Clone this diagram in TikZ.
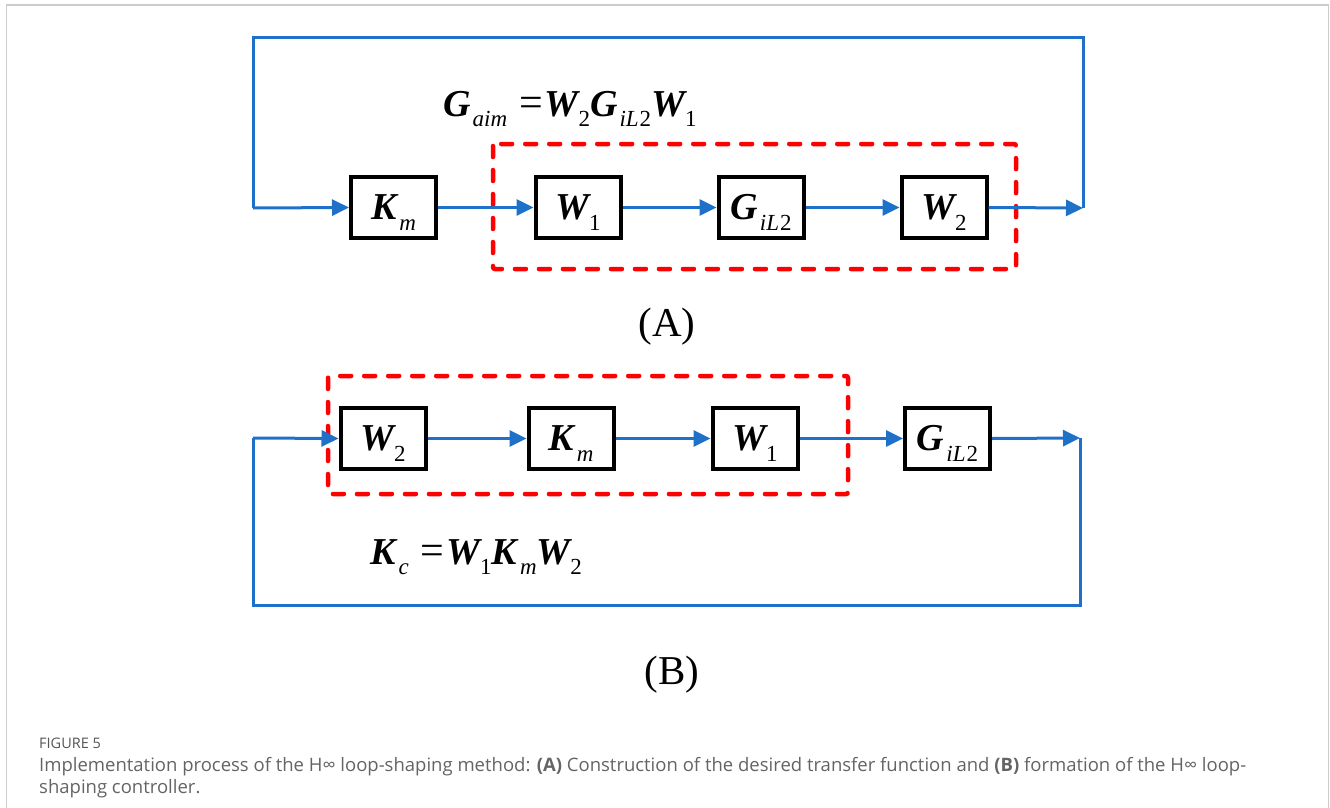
\documentclass[tikz,border=0pt]{standalone}
\usepackage{fontspec}
\setmainfont{Liberation Serif}
\newfontfamily\capfont{Open Sans}
\usetikzlibrary{arrows.meta}

\definecolor{flowblue}{RGB}{30,112,200}
\definecolor{framegray}{RGB}{204,204,204}
\definecolor{capgray}{RGB}{100,100,100}
\definecolor{figgray}{RGB}{85,85,85}

% bold italic symbol with a lowered subscript that takes no vertical room
\newcommand{\bsym}[3][0pt]{{\fontsize{38}{40}\selectfont\bfseries\itshape #2}\kern#1\raisebox{-10.5pt}[0pt][0pt]{\fontsize{23}{24}\selectfont #3}}
\newcommand{\eqsign}{\kern12pt{\fontsize{42}{44}\selectfont=}\kern2pt}

\tikzset{
  blk/.style={draw=black, line width=4pt, minimum width=85pt, minimum height=61pt, inner sep=0pt, fill=white},
  flow/.style={draw=flowblue, line width=3pt},
  flowarr/.style={flow, -{Triangle[length=17pt,width=16pt]}},
  group/.style={draw=red, line width=4.5pt, dash pattern=on 11pt off 13pt, line cap=round, rounded corners=2pt},
  tag/.style={font=\fontsize{41}{43}\selectfont, inner sep=0pt},
}

\begin{document}
\begin{tikzpicture}[x=1pt,y=-1pt]
\useasboundingbox (0,0) rectangle (1330,808);

% outer frame (open at the bottom)
\draw[framegray, line width=1.6pt] (6.5,808) -- (6.5,5) -- (1328.5,5) -- (1328.5,808);

% ---------- (A) desired loop shape ----------
\draw[group] (493,144) rectangle (1016,269);

\node[blk] (KmA)  at (393.5,207.5) {\bsym[3pt]{K}{\itshape m}};
\node[blk] (W1A)  at (578,207.5) {\bsym{W}{1}};
\node[blk] (GA)   at (761,207.5) {\bsym[2pt]{G}{\itshape iL\upshape\kern1pt 2}};
\node[blk] (W2A)  at (944,207.5) {\bsym{W}{2}};

\coordinate (outA) at (1083,208);
\coordinate (trA)  at (1083,38);
\coordinate (tlA)  at (253,38);
\coordinate (inA)  at (253,208);

\draw[flow] (outA) -- (trA) -- (tlA) -- (inA);
\draw[flowarr] (inA) -- (KmA.west);
\draw[flowarr] (KmA.east) -- (W1A.west);
\draw[flowarr] (W1A.east) -- (GA.west);
\draw[flowarr] (GA.east) -- (W2A.west);
\draw[flowarr] (W2A.east) -- (outA);

\node[inner sep=0pt, anchor=west] (eqA) at (443,104)
  {\bsym[2pt]{G}{\itshape aim}\eqsign\bsym{W}{2}\bsym[2pt]{G}{\itshape iL\upshape\kern1pt 2}\bsym{W}{1}};

\node[tag] (tagA) at (667,327) {(A)};

% ---------- (B) resulting controller ----------
\draw[group] (328,376) rectangle (848,494);

\node[blk] (W2B) at (383,438.5) {\bsym{W}{2}};
\node[blk] (KmB) at (571,438.5) {\bsym[3pt]{K}{\itshape m}};
\node[blk] (W1B) at (755,438.5) {\bsym{W}{1}};
\node[blk] (GB)  at (947.5,438.5) {\bsym[2pt]{G}{\itshape iL\upshape\kern1pt 2}};

\coordinate (outB) at (1080,438);
\coordinate (brB)  at (1080,605);
\coordinate (blB)  at (253,605);
\coordinate (inB)  at (253,438);

\draw[flow] (outB) -- (brB) -- (blB) -- (inB);
\draw[flowarr] (inB) -- (W2B.west);
\draw[flowarr] (W2B.east) -- (KmB.west);
\draw[flowarr] (KmB.east) -- (W1B.west);
\draw[flowarr] (W1B.east) -- (GB.west);
\draw[flowarr] (GB.east) -- (outB);

\node[inner sep=0pt, anchor=west] (eqB) at (370,552)
  {\bsym[3pt]{K}{\itshape c}\eqsign\bsym{W}{1}\bsym[3pt]{K}{\itshape m}\bsym{W}{2}};

\node[tag] (tagB) at (672,675) {(B)};

% ---------- caption ----------
\node[anchor=base west, inner sep=0pt, text=figgray, font=\capfont\fontsize{14.5}{16}\selectfont] (fig) at (39,748) {FIGURE 5};
\node[anchor=base west, inner sep=0pt, text=capgray, font=\capfont\fontsize{18.5}{20}\selectfont] (cap1) at (39,771)
  {Implementation process of the H∞ loop-shaping method: \textbf{(A)} Construction of the desired transfer function and \textbf{(B)} formation of the H∞ loop-};
\node[anchor=base west, inner sep=0pt, text=capgray, font=\capfont\fontsize{18.5}{20}\selectfont] (cap2) at (39,793)
  {shaping controller.};
\end{tikzpicture}
\end{document}
